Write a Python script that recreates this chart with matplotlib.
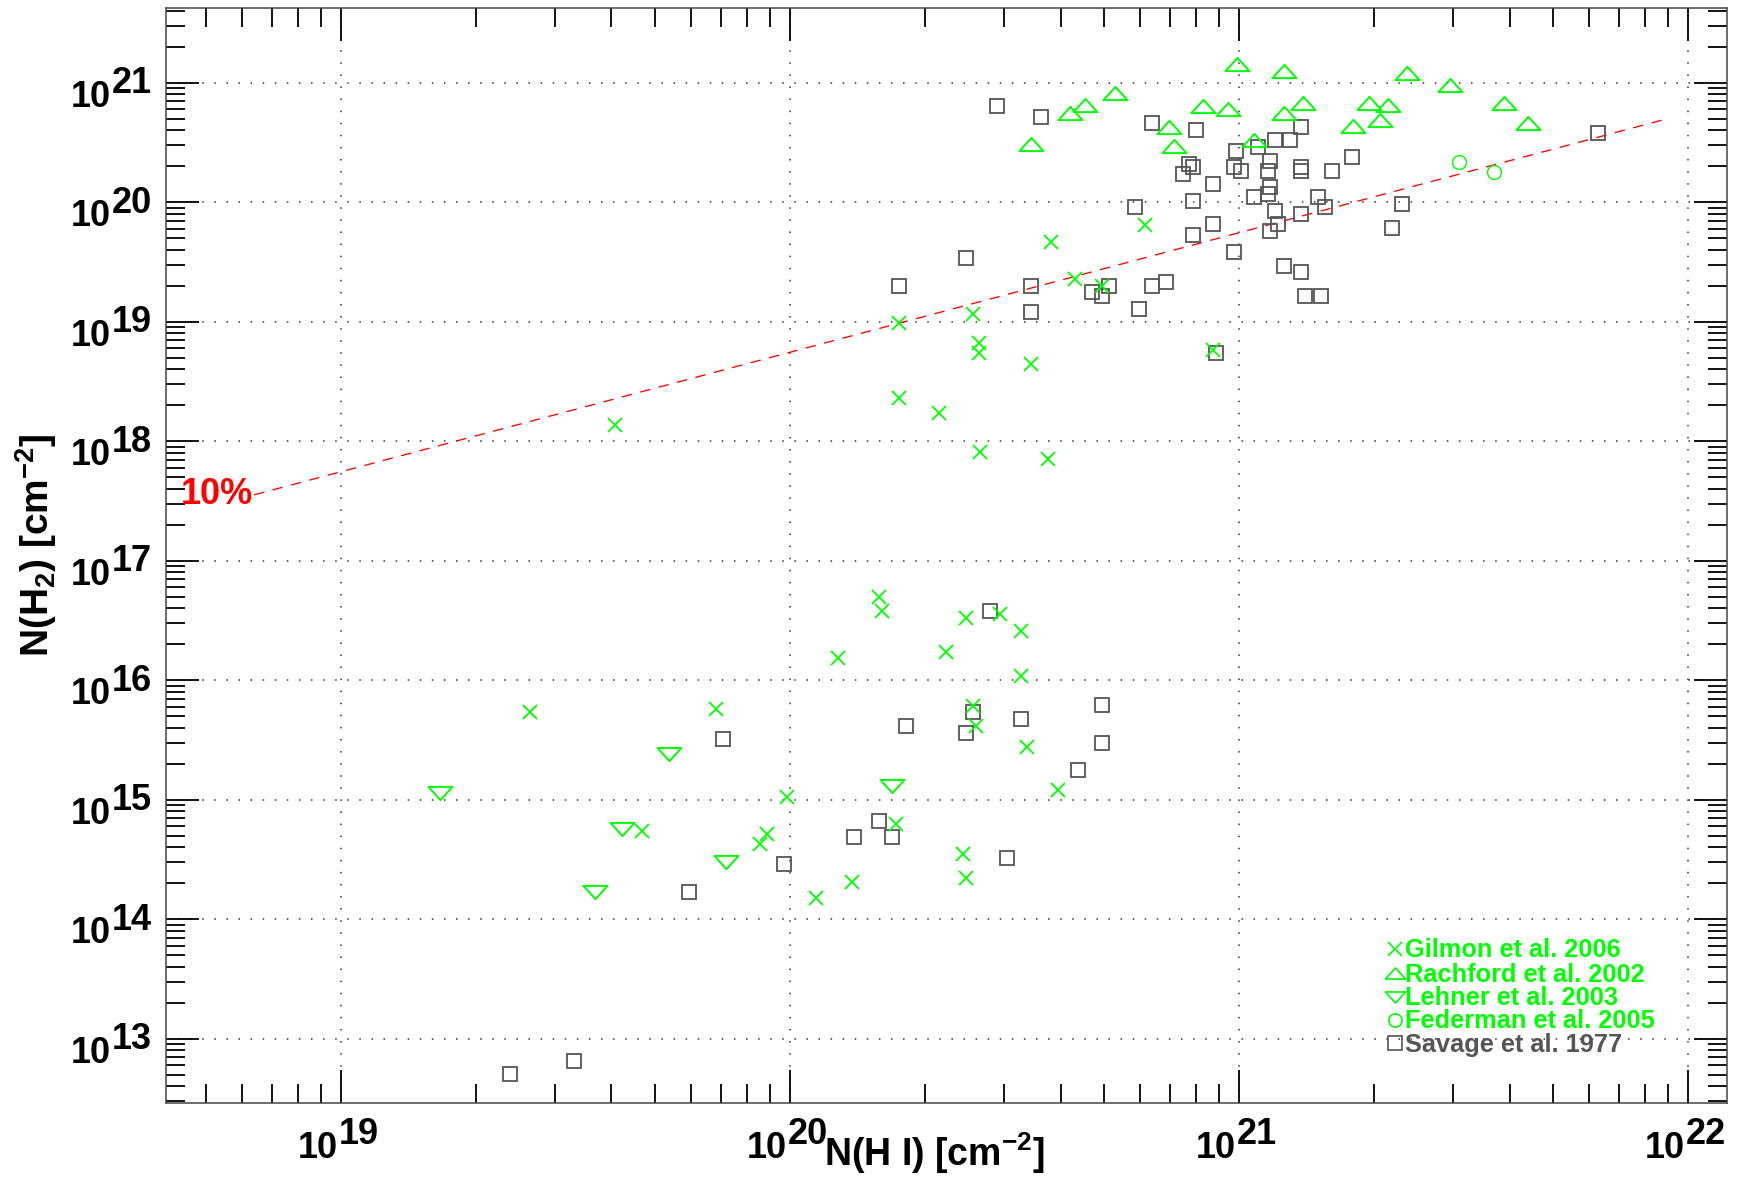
import numpy as np
import matplotlib
matplotlib.use('Agg')
import matplotlib.pyplot as plt
from matplotlib import font_manager as fm
from matplotlib.ticker import LogLocator, NullFormatter
from matplotlib.path import Path

# ---------------- data ----------------
gilmon_nhi = [6.18e20, 3.81e20, 4.31e20, 4.94e20, 1.75e20, 2.55e20, 2.64e20, 2.64e20,
              3.44e20, 8.75e20, 1.75e20, 2.15e20, 2.65e20, 3.75e20, 4.08e19,
              2.64e19, 6.85e19, 4.68e19, 8.89e19, 8.57e19, 1.58e20, 1.60e20, 1.28e20,
              2.47e20, 2.94e20, 2.22e20, 3.27e20, 3.27e20, 2.55e20, 2.60e20, 3.37e20,
              3.94e20, 9.86e19, 1.72e20, 2.43e20, 2.47e20, 1.37e20, 1.14e20]
gilmon_nh2 = [6.44e19, 4.68e19, 2.28e19, 2.00e19, 9.70e18, 1.17e19, 6.59e18, 5.45e18,
              4.43e18, 5.79e18, 2.31e18, 1.71e18, 8.13e17, 7.14e17, 1.37e18,
              5.38e15, 5.74e15, 5.51e14, 5.13e14, 4.24e14, 4.94e16, 3.82e16, 1.52e16,
              3.33e16, 3.56e16, 1.73e16, 2.58e16, 1.09e16, 6.12e15, 4.14e15, 2.77e15,
              1.21e15, 1.06e15, 6.22e14, 3.49e14, 2.20e14, 2.06e14, 1.50e14]

rachford_nhi = [9.87e20, 1.26e21, 5.30e20, 4.53e20, 4.21e20, 8.32e20, 9.42e20, 1.39e21,
                1.26e21, 6.97e20, 3.43e20, 7.14e20, 1.08e21, 2.36e21, 2.95e21, 1.95e21,
                2.15e21, 2.06e21, 1.79e21, 3.89e21, 4.39e21]
rachford_nh2 = [1.42e21, 1.25e21, 8.15e20, 6.47e20, 5.55e20, 6.34e20, 6.05e20, 6.81e20,
                5.55e20, 4.26e20, 3.07e20, 2.95e20, 3.30e20, 1.21e21, 9.51e20, 6.81e20,
                6.47e20, 4.84e20, 4.35e20, 6.81e20, 4.62e20]

lehner_nhi = [1.66e19, 5.36e19, 4.22e19, 3.68e19, 7.19e19, 1.69e20]
lehner_nh2 = [1.13e15, 2.40e15, 5.69e14, 1.70e14, 2.99e14, 1.29e15]

federman_nhi = [3.09e21, 3.69e21]
federman_nh2 = [2.18e20, 1.78e20]

savage_nhi = [2.89e20, 3.62e20, 6.41e20, 8.02e20, 9.86e20, 1.10e21, 1.20e21, 1.30e21,
              1.37e21, 7.74e20, 7.89e20, 7.48e20, 8.75e20, 9.73e20, 1.01e21, 1.17e21,
              1.16e21, 1.37e21, 1.37e21, 1.61e21, 1.17e21, 1.16e21, 1.08e21, 1.50e21,
              7.89e20, 5.87e20, 1.20e21, 1.55e21, 1.37e21, 1.22e21, 1.17e21, 8.75e20,
              7.89e20, 9.73e20, 2.47e20, 1.75e20, 3.44e20, 3.44e20, 4.69e20, 4.94e20,
              5.12e20, 6.41e20, 6.87e20, 5.98e20, 1.26e21, 1.37e21, 1.40e21, 1.52e21,
              8.89e20, 1.78e21, 2.31e21, 2.19e21, 6.31e21,
              7.10e19, 5.96e19, 2.79e20, 2.55e20, 2.47e20, 1.81e20, 3.27e20, 4.94e20,
              4.94e20, 4.38e20, 1.58e20, 1.39e20, 1.69e20, 3.04e20, 9.68e19,
              2.38e19, 3.30e19]
savage_nh2 = [6.38e20, 5.20e20, 4.57e20, 4.02e20, 2.70e20, 2.88e20, 3.31e20, 3.31e20,
              4.29e20, 2.09e20, 1.96e20, 1.72e20, 1.42e20, 1.96e20, 1.84e20, 2.22e20,
              1.84e20, 1.96e20, 1.84e20, 1.84e20, 1.33e20, 1.17e20, 1.10e20, 1.10e20,
              1.03e20, 9.06e19, 8.49e19, 9.06e19, 7.96e19, 6.58e19, 5.78e19, 6.58e19,
              5.32e19, 3.85e19, 3.39e19, 2.00e19, 2.00e19, 1.20e19, 1.76e19, 1.65e19,
              2.00e19, 2.00e19, 2.14e19, 1.28e19, 2.94e19, 2.59e19, 1.65e19, 1.65e19,
              5.45e18, 2.38e20, 9.66e19, 6.04e19, 3.78e20,
              3.22e15, 1.70e14, 3.82e16, 5.38e15, 3.64e15, 4.16e15, 4.73e15, 6.17e15,
              3.00e15, 1.77e15, 6.67e14, 4.84e14, 4.84e14, 3.27e14, 2.88e14,
              5.04e12, 6.55e12]

# 10% molecular-fraction line: f = 2N(H2) / (N(HI) + 2N(H2))
line_frac = 0.10
line_nhi = [6.4e18, 8.8e21]

legend_labels = ['Gilmon et al. 2006', 'Rachford et al. 2002', 'Lehner et al. 2003',
                 'Federman et al. 2005', 'Savage et al. 1977']

x_major_exp = [19, 20, 21, 22]
y_major_exp = [13, 14, 15, 16, 17, 18, 19, 20, 21]

# ---------------- style ----------------
GREEN = '#00ff00'
GRAY = '#555555'
RED = '#ff0000'

names = {f.name for f in fm.fontManager.ttflist}
NARROW = 'Liberation Sans Narrow' if 'Liberation Sans Narrow' in names else 'Liberation Sans'
TICK_SIZE = 28 if NARROW == 'Liberation Sans Narrow' else 26

plt.rcParams['font.family'] = ['Liberation Sans', 'DejaVu Sans']
plt.rcParams['font.weight'] = 'bold'
plt.rcParams['mathtext.fontset'] = 'custom'
plt.rcParams['mathtext.rm'] = 'Liberation Sans:bold'
plt.rcParams['mathtext.bf'] = 'Liberation Sans:bold'
plt.rcParams['mathtext.it'] = 'Liberation Sans:bold'
plt.rcParams['mathtext.default'] = 'bf'
plt.rcParams['lines.scale_dashes'] = False

W, H = 1738, 1177
fig = plt.figure(figsize=(W / 100, H / 100), dpi=100)
L, R, T, B = 166, 1727.3, 8, 1103
ax = fig.add_axes([L / W, 1 - B / H, (R - L) / W, (B - T) / H])
ax.set_xscale('log')
ax.set_yscale('log')
ax.set_xlim(10 ** 18.610, 10 ** 22.087)
ax.set_ylim(10 ** 12.462, 10 ** 21.625)

for a in (ax.xaxis, ax.yaxis):
    a.set_major_locator(LogLocator(base=10, numticks=30))
    a.set_minor_locator(LogLocator(base=10, subs=np.arange(2, 10), numticks=30))
    a.set_minor_formatter(NullFormatter())
ax.tick_params(which='both', direction='in', top=True, right=True,
               labelbottom=False, labelleft=False, color='black')
ax.tick_params(which='major', length=23.5, width=1.3)
ax.tick_params(which='minor', length=14, width=1.3)
for s in ax.spines.values():
    s.set_color('#444444')
    s.set_linewidth(1.1)

ax.grid(True, which='major', color='#333333', linewidth=1.1,
        linestyle=(0, (1.1, 7.6)))
ax.set_axisbelow(True)

# markers
tri_up = Path([(-1, -0.55), (0, 0.55), (1, -0.55), (-1, -0.55)], closed=True)
tri_dn = Path([(-1, 0.55), (0, -0.55), (1, 0.55), (-1, 0.55)], closed=True)

# 10% line
lx = np.array(line_nhi)
ly = lx * line_frac / (2 * (1 - line_frac))
ax.plot(lx, ly, color=RED, linewidth=0.95, linestyle=(0, (7.5, 6.2)), zorder=2)

ax.plot(savage_nhi, savage_nh2, linestyle='none', marker='s', ms=9.6, mfc='none',
        mec=GRAY, mew=1.3, zorder=3)
ax.plot(gilmon_nhi, gilmon_nh2, linestyle='none', marker='x', ms=10.5, mec=GREEN,
        mew=1.3, zorder=4)
ax.plot(rachford_nhi, rachford_nh2, linestyle='none', marker=tri_up, ms=17.3,
        mfc='none', mec=GREEN, mew=1.4, zorder=4)
ax.plot(lehner_nhi, lehner_nh2, linestyle='none', marker=tri_dn, ms=17.3,
        mfc='none', mec=GREEN, mew=1.4, zorder=4)
ax.plot(federman_nhi, federman_nh2, linestyle='none', marker='o', ms=10, mfc='none',
        mec=GREEN, mew=1.0, zorder=4)

# tick labels (10 with full-size exponent)
tickfont = dict(family=[NARROW, 'Liberation Sans', 'DejaVu Sans'], weight='bold',
                size=TICK_SIZE, color='black', annotation_clip=False)
for e in y_major_exp:
    ax.annotate('10', xy=(0, 10.0 ** e), xycoords=('axes fraction', 'data'),
                xytext=(-55, -24), textcoords='offset pixels', ha='right',
                va='baseline', **tickfont)
    ax.annotate(str(e), xy=(0, 10.0 ** e), xycoords=('axes fraction', 'data'),
                xytext=(-54, -10.6), textcoords='offset pixels', ha='left',
                va='baseline', **tickfont)
for e in x_major_exp:
    ax.annotate('10', xy=(10.0 ** e, 0), xycoords=('data', 'axes fraction'),
                xytext=(-3, -55), textcoords='offset pixels', ha='right',
                va='baseline', **tickfont)
    ax.annotate(str(e), xy=(10.0 ** e, 0), xycoords=('data', 'axes fraction'),
                xytext=(-2, -41), textcoords='offset pixels', ha='left',
                va='baseline', **tickfont)

# overlay in pixel coordinates for labels & legend
ov = fig.add_axes([0, 0, 1, 1])
ov.set_xlim(0, W)
ov.set_ylim(H, 0)
ov.axis('off')

ov.text(934, 1166, r'N(H I) [cm$^{-2}$]', ha='center', va='baseline', fontsize=27,
        fontweight='bold', color='black')
ov.text(36, 545, r'N(H$_2$) [cm$^{-2}$]', ha='center', va='center', rotation=90,
        fontsize=28, fontweight='bold', color='black')
ov.text(181, 495, '10%', ha='left', va='center', fontsize=26, fontweight='bold',
        color=RED)

leg_colors = [GREEN, GREEN, GREEN, GREEN, GRAY]
leg_markers = ['x', tri_up, tri_dn, 'o', 's']
leg_ms = [10.5, 14.5, 14.5, 9.5, 10]
leg_base = [957.3, 981.5, 1005, 1028.3, 1051.7]
for lab, c, m, ms, yb in zip(legend_labels, leg_colors, leg_markers, leg_ms, leg_base):
    ov.plot([1394.5], [yb - 8.5], linestyle='none', marker=m, ms=ms, mfc='none',
            mec=c, mew=1.2)
    ov.text(1405, yb, lab, ha='left', va='baseline', fontsize=18.3, fontweight='bold',
            color=c)

fig.savefig('out.png', dpi=100)
